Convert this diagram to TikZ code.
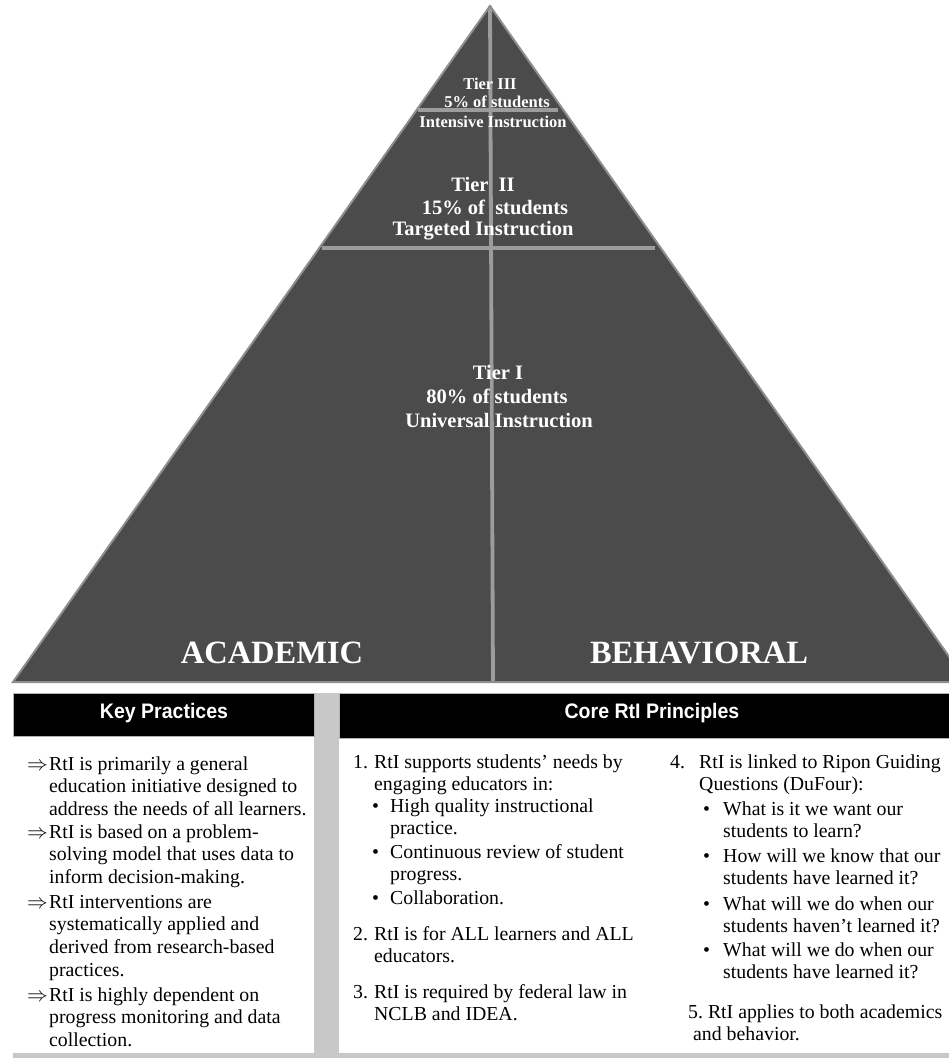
\documentclass[tikz,border=0pt]{standalone}
\usepackage{fontspec}
\setmainfont{Liberation Serif}
\newfontfamily\hdfont[FakeStretch=0.93]{Liberation Sans}

\definecolor{pyr}{HTML}{4B4B4B}
\definecolor{pyredge}{HTML}{8E8E8E}
\definecolor{divider}{HTML}{9C9C9C}
\definecolor{panelgray}{HTML}{C8C8C8}

\newcommand{\bodyfont}{\fontsize{19.8}{22.7}\selectfont}
\newcommand{\blk}[2]{\parbox[t]{#1pt}{\bodyfont #2}}

\tikzset{
  tiertxt/.style={anchor=base, text=white, inner sep=0,
    font=\bfseries\fontsize{20.5}{24}\selectfont},
  toptxt/.style={tiertxt, font=\bfseries\fontsize{16.5}{19}\selectfont},
  sidetxt/.style={anchor=base, text=white, inner sep=0,
    font=\bfseries\fontsize{32.5}{36}\selectfont},
  headbar/.style={fill=black, draw=gray!60, line width=0.8},
  headtxt/.style={anchor=base, text=white, inner sep=0,
    font=\hdfont\bfseries\fontsize{21}{24}\selectfont},
  bodytxt/.style={anchor=base west, inner sep=0, font=\bodyfont},
  tierline/.style={draw=divider, line width=3.2},
}

\begin{document}
\begin{tikzpicture}[x=1pt, y=-1pt]
\useasboundingbox (0,0) rectangle (949,1058);

% ---------- pyramid ----------
\coordinate (apex) at (490,6);
\coordinate (bl) at (13,682);
\coordinate (br) at (967,682);
\coordinate (vbot) at (493,682);
\coordinate (t3l) at (418,110);
\coordinate (t3r) at (558,110);
\coordinate (t2l) at (322,248);
\coordinate (t2r) at (655,248);

\begin{scope}
  \clip (0,0) rectangle (949,1058);
  \fill[pyr] (apex) -- (br) -- (bl) -- cycle;
  \draw[tierline] (t3l) -- (t3r);
  \draw[tierline] (t2l) -- (t2r);
  \draw[tierline, line width=3.8] (apex) -- (vbot);
  \draw[pyredge, line width=2, line join=miter] (apex) -- (br) -- (bl) -- cycle;
\end{scope}

\node[toptxt] (t3a) at (490,89) {Tier III};
\node[toptxt] (t3b) at (497,107) {5\% of students};
\node[toptxt] (t3c) at (493,127) {Intensive Instruction};

\node[tiertxt] (t2a) at (483,191) {Tier\ \ II};
\node[tiertxt] (t2b) at (495,214) {15\% of\ \ students};
\node[tiertxt] (t2c) at (483,235) {Targeted Instruction};

\node[tiertxt] (t1a) at (498,379) {Tier I};
\node[tiertxt] (t1b) at (497,403) {80\% of students};
\node[tiertxt] (t1c) at (499,427) {Universal Instruction};

\node[sidetxt] (acad) at (272,663) {ACADEMIC};
\node[sidetxt] (behav) at (699,663) {BEHAVIORAL};

% ---------- lower panels ----------
\fill[panelgray] (314,693) rectangle (339,1058);
\fill[panelgray] (13,1053) rectangle (949,1058);
\draw[headbar] (13,693) rectangle (314,736);
\draw[headbar] (339,693) rectangle (952,738);

\node[headtxt] (hkey) at (164,718) {Key Practices};
\node[headtxt] (hcore) at (652,718) {Core RtI Principles};

% Key practices
\node[bodytxt] (ka1) at (27,770) {$\Rightarrow$};
\node[bodytxt] (k1) at (49,770) {\blk{270}{RtI is primarily a general\\education initiative designed to\\address the needs of all learners.}};
\node[bodytxt] (ka2) at (27,838) {$\Rightarrow$};
\node[bodytxt] (k2) at (49,838) {\blk{270}{RtI is based on a problem-\\solving model that uses data to\\inform decision-making.}};
\node[bodytxt] (ka3) at (27,908) {$\Rightarrow$};
\node[bodytxt] (k3) at (49,908) {\blk{270}{RtI interventions are\\systematically applied and\\derived from research-based\\practices.}};
\node[bodytxt] (ka4) at (27,1001) {$\Rightarrow$};
\node[bodytxt] (k4) at (49,1001) {\blk{270}{RtI is highly dependent on\\progress monitoring and data\\collection.}};

% Core principles, first column
\node[bodytxt] (n1) at (353,768) {1.};
\node[bodytxt] (c1) at (374,768) {\blk{280}{RtI supports students’ needs by\\engaging educators in:}};
\node[bodytxt] (b11) at (372,812) {\textbullet};
\node[bodytxt] (c11) at (390,812) {\blk{260}{High quality instructional\\practice.}};
\node[bodytxt] (b12) at (372,858) {\textbullet};
\node[bodytxt] (c12) at (390,858) {\blk{260}{Continuous review of student\\progress.}};
\node[bodytxt] (b13) at (372,904) {\textbullet};
\node[bodytxt] (c13) at (390,904) {\blk{260}{Collaboration.}};
\node[bodytxt] (n2) at (353,940) {2.};
\node[bodytxt] (c2) at (374,940) {\blk{280}{RtI is for ALL learners and ALL\\educators.}};
\node[bodytxt] (n3) at (353,998) {3.};
\node[bodytxt] (c3) at (374,998) {\blk{280}{RtI is required by federal law in\\NCLB and IDEA.}};

% Core principles, second column
\node[bodytxt] (n4) at (670,768) {4.};
\node[bodytxt] (c4) at (699,768) {\blk{260}{RtI is linked to Ripon Guiding\\Questions (DuFour):}};
\node[bodytxt] (b41) at (703,815) {\textbullet};
\node[bodytxt] (c41) at (723,815) {\blk{240}{What is it we want our\\students to learn?}};
\node[bodytxt] (b42) at (703,862) {\textbullet};
\node[bodytxt] (c42) at (723,862) {\blk{240}{How will we know that our\\students have learned it?}};
\node[bodytxt] (b43) at (703,910) {\textbullet};
\node[bodytxt] (c43) at (723,910) {\blk{240}{What will we do when our\\students haven’t learned it?}};
\node[bodytxt] (b44) at (703,956) {\textbullet};
\node[bodytxt] (c44) at (723,956) {\blk{240}{What will we do when our\\students have learned it?}};
\node[bodytxt] (c5) at (688,1018) {\blk{260}{5.\ RtI applies to both academics\\\hspace*{5pt}and behavior.}};

\end{tikzpicture}
\end{document}
